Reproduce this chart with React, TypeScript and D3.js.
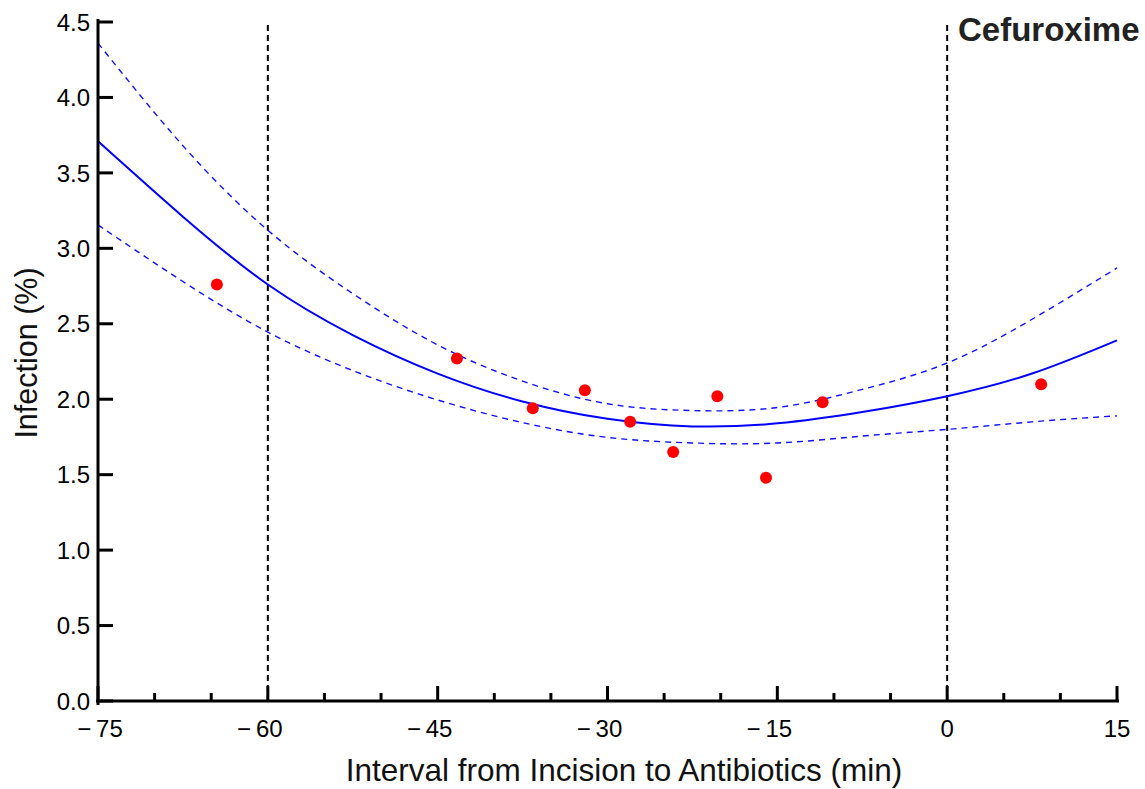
import React, { useRef, useEffect } from 'react';
import * as d3 from 'd3';

// observed points (interval in min, infection %)
const obsMinutes = [-64.5, -43.3, -36.6, -32.0, -28.0, -24.2, -20.3, -16.0, -11.0, 8.3];
const obsInfection = [2.76, 2.27, 1.94, 2.06, 1.85, 1.65, 2.02, 1.48, 1.98, 2.10];

// fitted curve and confidence band
const fitMinutes = [-75, -67.5, -60, -52.5, -45, -37.5, -30, -22.5, -15, -7.5, 0, 7.5, 15];
const fitMid = [3.71, 3.21, 2.76, 2.425, 2.17, 1.985, 1.87, 1.82, 1.84, 1.915, 2.02, 2.17, 2.39];
const fitUpper = [4.36, 3.68, 3.12, 2.70, 2.36, 2.12, 1.97, 1.925, 1.945, 2.065, 2.24, 2.53, 2.87];
const fitLower = [3.155, 2.78, 2.445, 2.19, 1.995, 1.845, 1.747, 1.71, 1.71, 1.756, 1.80, 1.85, 1.89];

const xMajor = [-75, -60, -45, -30, -15, 0, 15];
const xMinor = [-70, -65, -55, -50, -40, -35, -25, -20, -10, -5, 5, 10];
const yTicks = [0, 0.5, 1, 1.5, 2, 2.5, 3, 3.5, 4, 4.5];
const refLines = [-60, 0];

const W = 1145, H = 789;
const FONT = '"Liberation Sans", Arial, Helvetica, sans-serif';

export default function App() {
    const ref = useRef<SVGSVGElement>(null);

    useEffect(() => {
        const svg = d3.select(ref.current);
        svg.selectAll('*').remove();

        const x = d3.scaleLinear().domain([-75, 15]).range([98, 1117]);
        const y = d3.scaleLinear().domain([0, 4.5]).range([701, 22]);

        // dashed reference lines
        refLines.forEach(v => {
            svg.append('line')
                .attr('x1', x(v)).attr('x2', x(v))
                .attr('y1', 25).attr('y2', y(0))
                .attr('stroke', '#000').attr('stroke-width', 2)
                .attr('stroke-dasharray', '6,4');
        });

        // band + fit
        const line = (vals: number[]) => d3.line<number>()
            .x((d, i) => x(fitMinutes[i]))
            .y(d => y(d))
            .curve(d3.curveNatural)(vals);

        [fitUpper, fitLower].forEach(vals => {
            svg.append('path')
                .attr('d', line(vals))
                .attr('fill', 'none')
                .attr('stroke', '#1010ff')
                .attr('stroke-width', 1.4)
                .attr('stroke-dasharray', '6,5');
        });
        svg.append('path')
            .attr('d', line(fitMid))
            .attr('fill', 'none')
            .attr('stroke', '#0000ff')
            .attr('stroke-width', 2);

        // points
        svg.selectAll('circle.pt')
            .data(obsMinutes)
            .enter()
            .append('circle')
            .attr('class', 'pt')
            .attr('cx', d => x(d))
            .attr('cy', (d, i) => y(obsInfection[i]))
            .attr('r', 6)
            .attr('fill', '#ff0000');

        // axes lines
        svg.append('line')
            .attr('x1', x(-75)).attr('x2', x(-75))
            .attr('y1', 19).attr('y2', 705)
            .attr('stroke', '#000').attr('stroke-width', 3);
        svg.append('line')
            .attr('x1', 96).attr('x2', 1119)
            .attr('y1', y(0)).attr('y2', y(0))
            .attr('stroke', '#000').attr('stroke-width', 3);

        // y ticks
        const yAxis = svg.append('g');
        yTicks.forEach(t => {
            yAxis.append('line')
                .attr('x1', x(-75)).attr('x2', x(-75) + 15)
                .attr('y1', y(t)).attr('y2', y(t))
                .attr('stroke', '#000').attr('stroke-width', 3);
            yAxis.append('text')
                .attr('x', 90).attr('y', y(t))
                .attr('dy', '0.36em')
                .attr('text-anchor', 'end')
                .attr('font-family', FONT)
                .attr('font-size', 24)
                .attr('fill', '#000')
                .text(t.toFixed(1));
        });

        // x ticks
        const xAxis = svg.append('g');
        xMajor.forEach(t => {
            xAxis.append('line')
                .attr('x1', x(t)).attr('x2', x(t))
                .attr('y1', y(0)).attr('y2', y(0) - 15)
                .attr('stroke', '#000').attr('stroke-width', 3);
            const neg = t < 0;
            xAxis.append('text')
                .attr('x', x(t) + (t === -75 ? 2 : neg ? -8 : 0))
                .attr('y', 737)
                .attr('text-anchor', 'middle')
                .attr('font-family', FONT)
                .attr('font-size', 24)
                .attr('fill', '#000')
                .text(neg ? '\u2212\u2009' + Math.abs(t) : String(t));
        });
        xMinor.forEach(t => {
            xAxis.append('line')
                .attr('x1', x(t)).attr('x2', x(t))
                .attr('y1', y(0)).attr('y2', y(0) - 8)
                .attr('stroke', '#000').attr('stroke-width', 3);
        });

        // axis titles
        svg.append('text')
            .attr('x', 624).attr('y', 781)
            .attr('text-anchor', 'middle')
            .attr('font-family', FONT)
            .attr('font-size', 31.5)
            .attr('fill', '#111')
            .text('Interval from Incision to Antibiotics (min)');
        svg.append('text')
            .attr('transform', 'translate(37,353) rotate(-90)')
            .attr('text-anchor', 'middle')
            .attr('font-family', FONT)
            .attr('font-size', 30.5)
            .attr('fill', '#111')
            .text('Infection (%)');

        // panel title
        svg.append('text')
            .attr('x', 958).attr('y', 41)
            .attr('font-family', FONT)
            .attr('font-size', 33)
            .attr('font-weight', 'bold')
            .attr('fill', '#222')
            .text('Cefuroxime');
    }, []);

    return (
        <div style={{ position: 'absolute', left: 0, top: 0 }}>
            <svg ref={ref} width={W} height={H} style={{ display: 'block', background: '#fff' }} />
        </div>
    );
}
